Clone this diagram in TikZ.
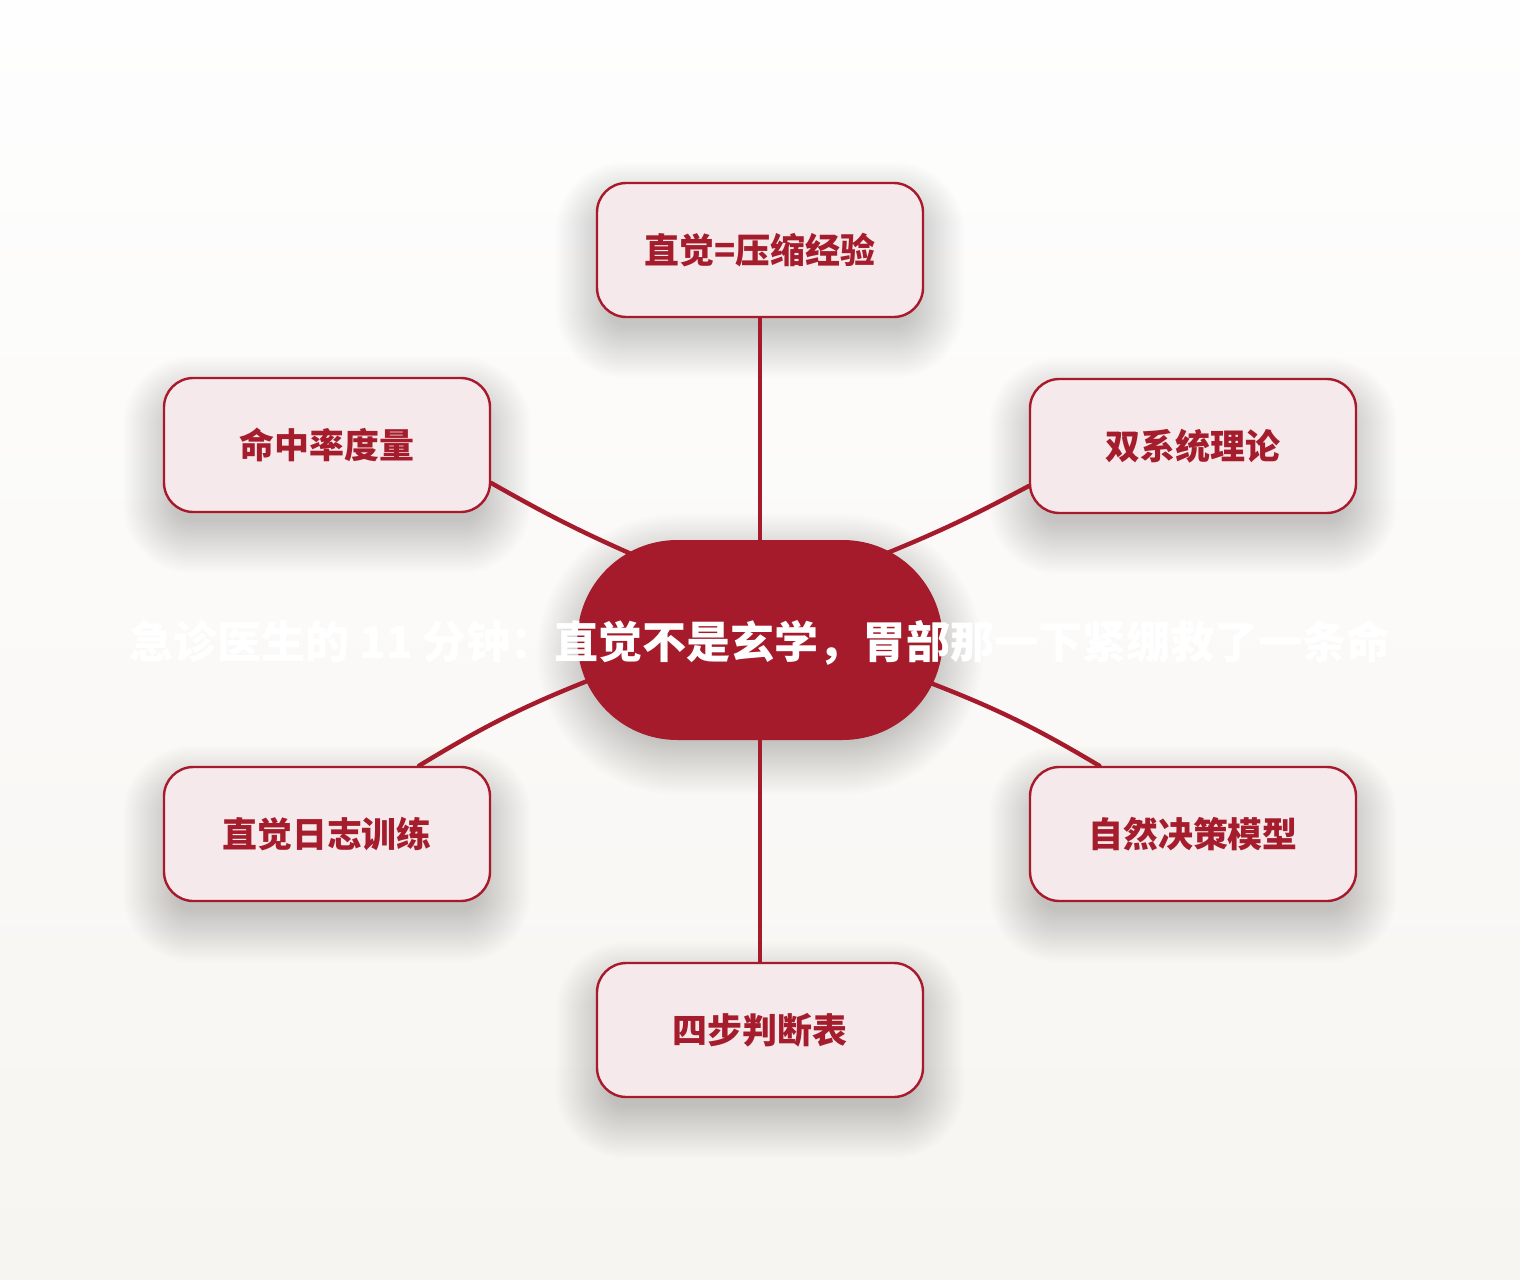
\documentclass[tikz,border=0pt]{standalone}
\usepackage{fontspec}
\newfontfamily\cjk{Noto Sans CJK SC}
\usetikzlibrary{calc}
\definecolor{hubred}{HTML}{A51B2B}
\definecolor{boxfill}{HTML}{F5E9EB}
\definecolor{boxline}{HTML}{A8192B}
\definecolor{boxtext}{HTML}{A51C2C}
\definecolor{bgtop}{HTML}{FEFEFE}
\definecolor{bgbot}{HTML}{F7F5F1}
\definecolor{shadowc}{HTML}{3A3530}
\pgfdeclarelayer{bg}
\pgfdeclarelayer{edges}
\pgfsetlayers{bg,edges,main}
\tikzset{
  box/.style={draw=boxline, line width=1.8pt, fill=boxfill, rounded corners=22pt,
    inner sep=0pt, minimum width=244.5pt, minimum height=100.5pt, text=boxtext,
    font=\cjk\bfseries\fontsize{26.2}{30}\selectfont},
  hub/.style={fill=hubred, rounded corners=75pt, inner sep=0pt,
    minimum width=274pt, minimum height=150pt},
  hubtext/.style={text=white, inner sep=0pt, font=\cjk\bfseries\fontsize{33}{40}\selectfont},
  link/.style={draw=hubred, line width=3.3pt, line cap=round},
  shadowlayer/.style={fill=shadowc, opacity=0.0085}
}
% soft shadow: node name, corner radius (pt), downward offset (px), last step
\newcommand\softshadow[4]{%
  \foreach \k [evaluate=\k as \r using {max(#2+\k*1.5,1)}] in {-6,...,#4}{
    \fill[shadowlayer, rounded corners=\r pt]
      ($(#1.south west)+(-\k*2,#3+\k*2)$) rectangle ($(#1.north east)+(\k*2,#3-\k*2)$);
  }}
\newcommand\lbl[1]{\lower2.2pt\hbox{#1}}
\begin{document}
\begin{tikzpicture}[x=0.75pt,y=-0.75pt]
\useasboundingbox (0,0) rectangle (1520,1280);
\begin{pgfonlayer}{bg}
\shade[top color=bgtop, bottom color=bgbot] (0,0) rectangle (1520,1280);
\end{pgfonlayer}
\node[hub] (c) at (760,640) {};
\node[box] (t)  at (760,250) {\lbl{直觉=压缩经验}};
\node[box] (lu) at (327,445) {\lbl{命中率度量}};
\node[box] (ru) at (1193,446) {\lbl{双系统理论}};
\node[box] (ll) at (327,834) {\lbl{直觉日志训练}};
\node[box] (rl) at (1193,834) {\lbl{自然决策模型}};
\node[box] (b)  at (760,1030) {\lbl{四步判断表}};
\node[hubtext] (title) at (760,643) {急诊医生的 11 分钟：直觉不是玄学，胃部那一下紧绷救了一条命};
\begin{pgfonlayer}{bg}
\softshadow{t}{22}{20}{20}
\softshadow{lu}{22}{20}{20}
\softshadow{ru}{22}{20}{20}
\softshadow{ll}{22}{20}{20}
\softshadow{rl}{22}{20}{20}
\softshadow{b}{22}{20}{20}
\softshadow{c}{75}{14}{20}
\end{pgfonlayer}
\begin{pgfonlayer}{edges}
\draw[link] (c.center) -- (t.south);
\draw[link] (c.center) -- (b.north);
\draw[link] ($(c.center)+(-115,-80)$) to[bend left=3] ($(lu.east)+(0,38)$);
\draw[link] ($(c.center)+(115,-82)$) to[bend right=3] ($(ru.west)+(0,40)$);
\draw[link] ($(c.center)+(-160,36)$) to[bend right=5] ($(ll.north west)!0.78!(ll.north east)$);
\draw[link] ($(c.center)+(160,39)$) to[bend left=5] ($(rl.north west)!0.215!(rl.north east)$);
\end{pgfonlayer}
\end{tikzpicture}
\end{document}
